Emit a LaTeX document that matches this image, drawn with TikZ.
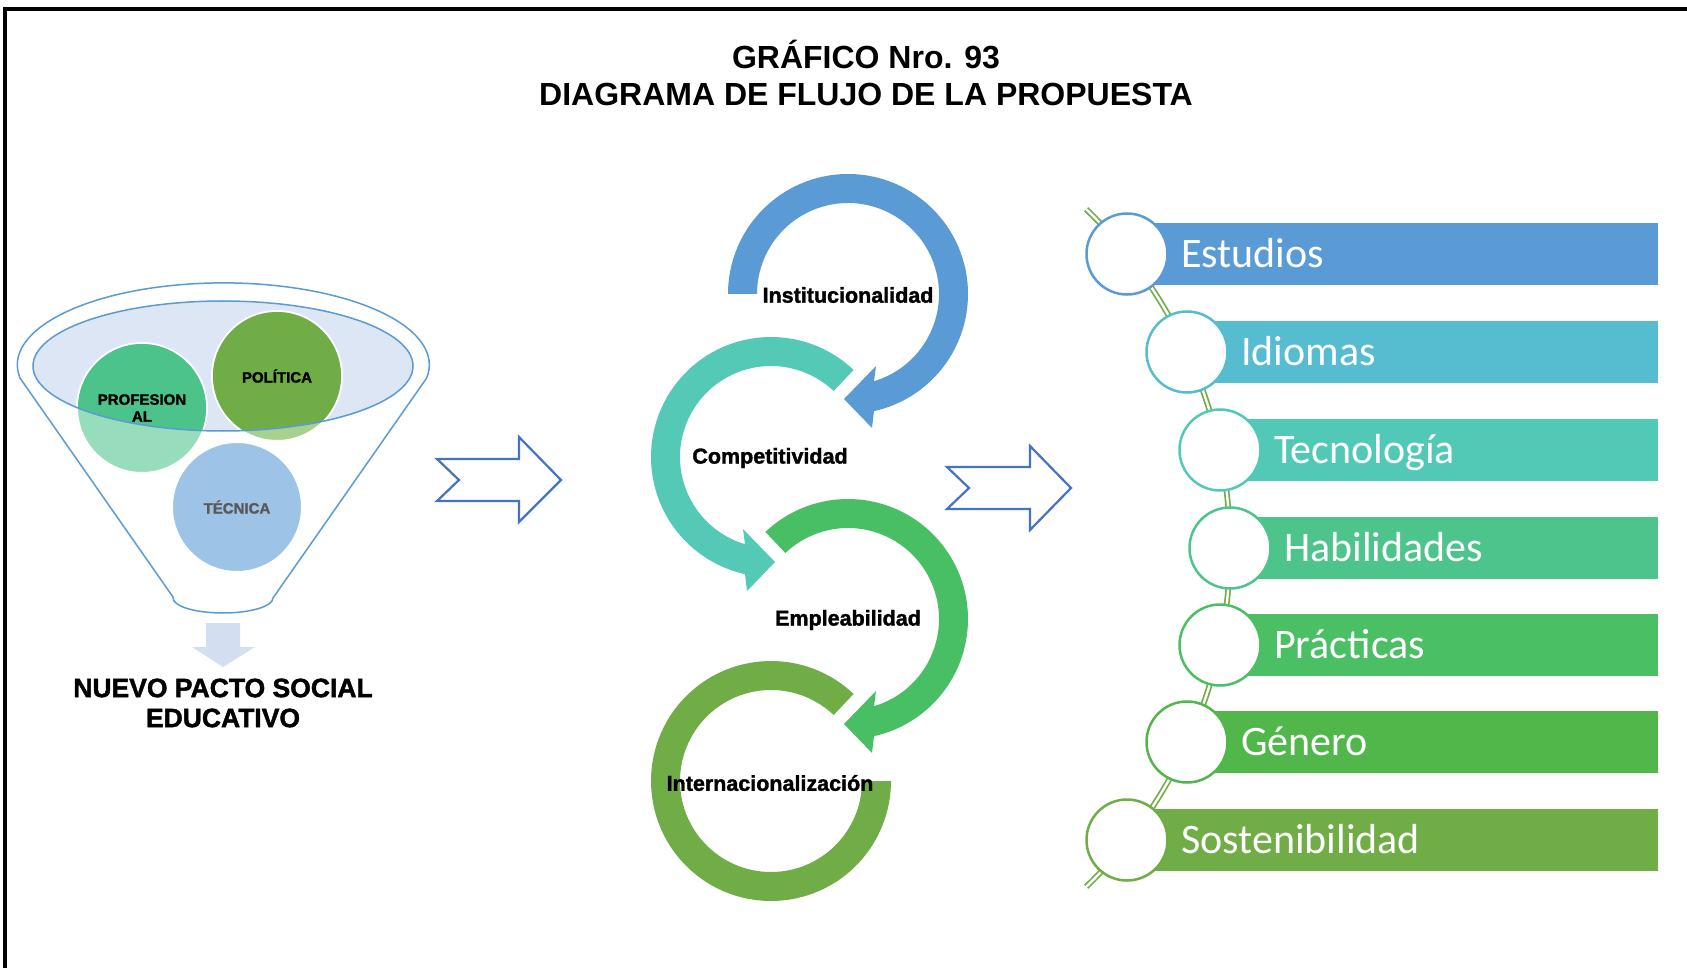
\documentclass[tikz,border=0pt]{standalone}
\usepackage{fontspec}
\setmainfont{Liberation Sans}
\newfontfamily\carlito{Carlito}
\newfontfamily\heavy{Liberation Sans}[BoldFeatures={FakeBold=1.6}]
\usetikzlibrary{calc}
\definecolor{cblue}{HTML}{5B9BD5}
\definecolor{cteal}{HTML}{53C9B6}
\definecolor{cgreen}{HTML}{48BF64}
\definecolor{colive}{HTML}{70AD47}
\definecolor{cidi}{HTML}{56BCCF}
\definecolor{ctec}{HTML}{52C9B6}
\definecolor{chab}{HTML}{4EC48D}
\definecolor{cpra}{HTML}{4ABF63}
\definecolor{cgen}{HTML}{51B74B}
\definecolor{csos}{HTML}{70AD47}
\definecolor{ellfill}{HTML}{DDE6F4}
\definecolor{profdark}{HTML}{4CC38A}
\definecolor{proflight}{HTML}{97DDBB}
\definecolor{poldark}{HTML}{70AD47}
\definecolor{pollight}{HTML}{A9D18E}
\definecolor{teclight}{HTML}{9DC3E6}
\definecolor{tectext}{HTML}{595959}
\definecolor{downarrow}{HTML}{D3DEF0}
\definecolor{harrow}{HTML}{4472C4}
\tikzset{
  funnelline/.style={draw=cblue, line width=1.5pt},
  bubble/.style={circle, minimum size=130pt, inner sep=0pt, draw=white, line width=2pt},
  bubtext/.style={font=\heavy\bfseries\fontsize{15}{17}\selectfont, align=center, inner sep=0pt},
  hollowarrow/.style={draw=harrow, fill=white, line width=2.2pt, line join=miter},
  cyclabel/.style={font=\heavy\bfseries\fontsize{21.5}{24}\selectfont, inner sep=0pt},
  itemcirc/.style={circle, minimum size=81pt, inner sep=0pt, fill=white, line width=2.5pt},
  itemtext/.style={font=\carlito\fontsize{42}{48}\selectfont, text=white, anchor=base west, inner sep=0pt},
  titletext/.style={font=\bfseries\fontsize{32}{38}\selectfont, anchor=base, inner sep=0pt},
  spine/.style={draw=colive, line width=1.7pt, double=white, double distance=2.4pt},
}
\begin{document}
\begin{tikzpicture}[x=1pt, y=-1pt]
\useasboundingbox (0,0) rectangle (1687,968);
\fill[white] (0,0) rectangle (1687,968);
% frame
\draw[line width=4pt] (5.3,968) -- (5.3,9.3) -- (1687,9.3);
% title
\node[titletext] (title1) at (866,69) {GRÁFICO Nro. 93};
\node[titletext] (title2) at (866,106) {DIAGRAMA DE FLUJO DE LA PROPUESTA};

% ---------- funnel ----------
\draw[funnelline] (173,597) -- (20,378)
  arc[start angle=170.8, end angle=369.2, x radius=206, y radius=82]
  -- (273,598) arc[start angle=0, end angle=180, x radius=50, y radius=15] -- cycle;
\fill[ellfill] (223,366) ellipse[x radius=190, y radius=65];
\node[bubble, fill=proflight] (prof) at (142,408) {};
\node[bubble, fill=pollight] (pol) at (277,376) {};
\node[bubble, fill=teclight] (tec) at (237,507) {};
\begin{scope}
  \clip (223,366) ellipse[x radius=190, y radius=65];
  \fill[profdark] (prof.center) circle[radius=64];
  \fill[poldark] (pol.center) circle[radius=64];
\end{scope}
\draw[funnelline] (223,366) ellipse[x radius=190, y radius=65];
\node[bubtext] (proft) at (prof.center) {PROFESION\\AL};
\node[bubtext] (polt) at (pol.center) {POLÍTICA};
\node[bubtext, text=tectext] (tect) at (tec.center) {TÉCNICA};
% down arrow
\fill[downarrow] (206,623) -- (240,623) -- (240,647) -- (255,647) -- (223,667) -- (192,647) -- (206,647) -- cycle;
\node[font=\heavy\bfseries\fontsize{26.5}{30}\selectfont, align=center, inner sep=0pt] (pacto) at (223,703) {NUEVO PACTO SOCIAL\\EDUCATIVO};

% ---------- hollow arrows ----------
\draw[hollowarrow] (437,459) -- (519,459) -- (519,437) -- (561,480) -- (519,522) -- (519,501) -- (437,501) -- (459,480) -- cycle;
\draw[hollowarrow] (947,467) -- (1030,467) -- (1030,446) -- (1071,488) -- (1030,530) -- (1030,509) -- (947,509) -- (969,488) -- cycle;

% ---------- circular arrows ----------
\coordinate (B) at (848,294);
\coordinate (T) at (771,457);
\coordinate (E) at (848,619);
\coordinate (N) at (771,781);
% blue
\fill[cblue] ($(B)+(180:120)$) arc[start angle=180, end angle=437.5, radius=120]
  -- ($(B)+(24,134)$) -- ($(B)+(-4,105)$) -- ($(B)+(28,72)$) -- ($(B)+(26,87.2)$)
  arc[start angle=433.4, end angle=180, radius=91] -- cycle;
% teal
\fill[cteal] ($(T)+(-46.5:120)$) arc[start angle=-46.5, end angle=-257.5, radius=120]
  -- ($(T)+(-24,134)$) -- ($(T)+(4,105)$) -- ($(T)+(-28,72)$) -- ($(T)+(-26,87.2)$)
  arc[start angle=-253.4, end angle=-46.5, radius=91] -- cycle;
% green
\fill[cgreen] ($(E)+(226.5:120)$) arc[start angle=226.5, end angle=437.5, radius=120]
  -- ($(E)+(24,134)$) -- ($(E)+(-4,105)$) -- ($(E)+(28,72)$) -- ($(E)+(26,87.2)$)
  arc[start angle=433.4, end angle=226.5, radius=91] -- cycle;
% olive
\fill[colive] ($(N)+(-46.5:120)$) arc[start angle=-46.5, end angle=-360, radius=120]
  -- ($(N)+(0:91)$) arc[start angle=-360, end angle=-46.5, radius=91] -- cycle;
\node[cyclabel] (inst) at (848,295) {Institucionalidad};
\node[cyclabel] (comp) at (770,458) {Competitividad};
\node[cyclabel] (empl) at (848,620) {Empleabilidad};
\node[cyclabel] (inter) at (770,783) {Internacionalización};

% ---------- list ----------
\coordinate (spinetop) at ($(759,548)+(-46:471)$);
\draw[spine] (spinetop) arc[start angle=-46, end angle=46, radius=471] coordinate (spinebot);
\foreach \cx/\cy/\col/\txt/\nm in {1127/254/cblue/Estudios/est, 1187/352/cidi/Idiomas/idi, 1220/450/ctec/Tecnología/tec, 1230/548/chab/Habilidades/hab, 1220/645/cpra/Prácticas/pra, 1187/742/cgen/Género/gen, 1127/840/csos/Sostenibilidad/sos}{
  \fill[\col] (\cx,\cy-31) rectangle (1658,\cy+31);
  \node[itemcirc, draw=\col] (c\nm) at (\cx,\cy) {};
  \node[itemtext] (t\nm) at (\cx+54,\cy+13.5) {\txt};
}
\end{tikzpicture}
\end{document}
